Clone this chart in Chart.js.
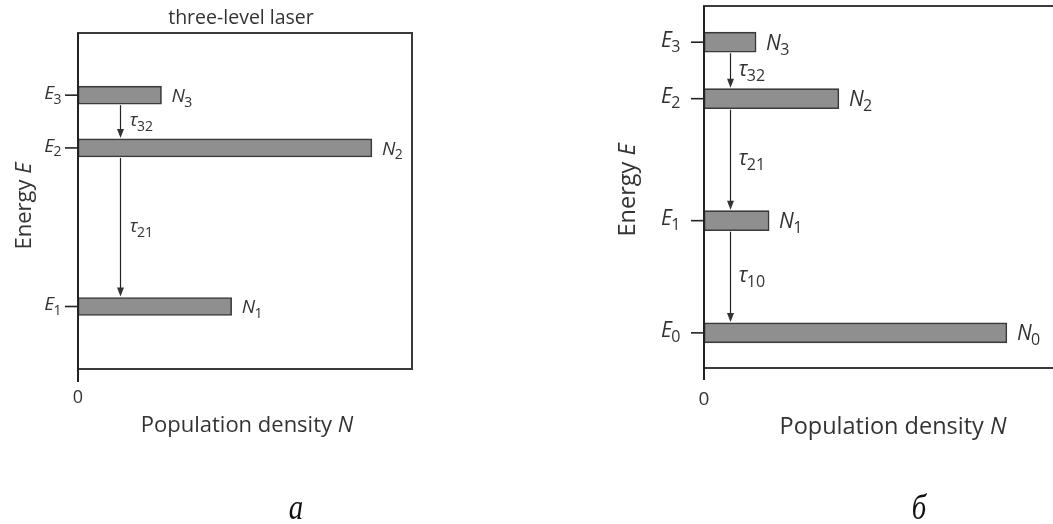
<!DOCTYPE html>
<html>
<head>
<meta charset="utf-8">
<script src="https://cdn.jsdelivr.net/npm/chart.js@4/dist/chart.umd.min.js"></script>
<style>
  html, body { margin: 0; padding: 0; background: #fff; }
  body { width: 1053px; height: 524px; overflow: hidden; position: relative; }
  canvas { position: absolute; top: 0; }
  #panelA { left: 0; }
  #panelB { left: 600px; }
</style>
</head>
<body>
<canvas id="panelA" width="440" height="524" style="width:440px;height:524px"></canvas>
<canvas id="panelB" width="480" height="524" style="width:480px;height:524px"></canvas>
<script>
// ---- Panel а: three-level laser ----
const levelSubsA = ['3', '2', '1'];
const energyA = [8.15, 6.58, 1.86];          // level energy (arbitrary units, 0..10)
const populationA = [25, 88, 46];            // population density (arbitrary units, 0..100)
const tauSubsA = ['32', '21'];               // decay between consecutive levels
const arrowPopA = 12.6;                      // where the decay arrows run along N

// ---- Panel б: four-level scheme ----
const levelSubsB = ['3', '2', '1', '0'];
const energyB = [9.0, 7.44, 4.07, 0.97];
const populationB = [15.6, 40.4, 19.5, 90.7];
const tauSubsB = ['32', '21', '10'];
const arrowPopB = 7.8;

const titleA = 'three-level laser';
const xTitle = 'Population density ';
const yTitle = 'Energy ';
const captionA = 'а';
const captionB = 'б';

const INK = '#333';
const SANS = '"Open Sans", "Noto Sans", sans-serif';

// Italic symbol followed by an upright subscript; y is the centre of the symbol.
function symbolSub(ctx, sym, sub, x, y, size, align) {
  const mf = `italic ${size}px ${SANS}`;
  const sf = `${Math.round(size * 0.74)}px ${SANS}`;
  ctx.font = mf; const mw = ctx.measureText(sym).width;
  ctx.font = sf; const sw = ctx.measureText(sub).width;
  const x0 = align === 'right' ? x - mw - sw : x;
  const base = y + size * 0.36;
  ctx.textAlign = 'left';
  ctx.textBaseline = 'alphabetic';
  ctx.font = mf; ctx.fillText(sym, x0, base);
  ctx.font = sf; ctx.fillText(sub, x0 + mw - size * 0.03, base + size * 0.24);
}

// Plain text followed by an italic symbol, centred at x.
function textThenItalic(ctx, plain, sym, x, y, size) {
  const pf = `${size}px ${SANS}`, mf = `italic ${size}px ${SANS}`;
  ctx.font = pf; const pw = ctx.measureText(plain).width;
  ctx.font = mf; const mw = ctx.measureText(sym).width;
  const x0 = x - (pw + mw) / 2;
  ctx.textAlign = 'left';
  ctx.textBaseline = 'middle';
  ctx.font = pf; ctx.fillText(plain, x0, y);
  ctx.font = mf; ctx.fillText(sym, x0 + pw, y);
}

// Frame, level ticks, labels and decay arrows drawn on top of the bars.
const levelDiagram = {
  id: 'levelDiagram',
  afterDatasetsDraw(chart, args, o) {
    const { ctx, chartArea: a, scales: { x, y } } = chart;
    const energy = o.energy, pops = o.population, half = o.thickness / 2;
    ctx.save();

    // box
    ctx.strokeStyle = '#3a3a3a';
    ctx.lineWidth = 2;
    ctx.strokeRect(a.left, a.top, a.right - a.left, a.bottom - a.top);
    // energy axis, running past the box to mark N = 0
    ctx.strokeStyle = '#222';
    ctx.beginPath();
    ctx.moveTo(a.left, a.top);
    ctx.lineTo(a.left, a.bottom + o.zeroTick);
    ctx.stroke();

    ctx.fillStyle = INK;
    ctx.lineWidth = 1.6;
    energy.forEach((e, i) => {
      const py = y.getPixelForValue(e);
      // tick on the energy axis
      ctx.beginPath();
      ctx.moveTo(a.left - o.tickLen, py);
      ctx.lineTo(a.left, py);
      ctx.stroke();
      // E_i at the left, N_i at the bar end
      symbolSub(ctx, 'E', o.subs[i], a.left - o.tickLen - o.eGap, py - 3, o.size, 'right');
      symbolSub(ctx, 'N', o.subs[i], x.getPixelForValue(pops[i]) + o.nGap, py, o.size, 'left');
    });

    // decay arrows between neighbouring levels
    const ax = Math.round(x.getPixelForValue(o.arrowPop)) + 0.5;
    ctx.strokeStyle = '#222';
    ctx.lineWidth = 1.2;
    for (let i = 0; i < energy.length - 1; i++) {
      const y0 = y.getPixelForValue(energy[i]) + half + 1;
      const y1 = y.getPixelForValue(energy[i + 1]) - half - 1;
      ctx.beginPath();
      ctx.moveTo(ax, y0);
      ctx.lineTo(ax, y1 - 6);
      ctx.stroke();
      ctx.beginPath();
      ctx.moveTo(ax - 3.5, y1 - 9);
      ctx.lineTo(ax + 3.5, y1 - 9);
      ctx.lineTo(ax, y1);
      ctx.closePath();
      ctx.fill();
      symbolSub(ctx, 'τ', o.taus[i], ax + o.tauGap, (y0 + y1) / 2 - 2, o.size, 'left');
    }

    // zero of the population axis
    ctx.font = `${o.zeroSize}px ${SANS}`;
    ctx.textAlign = 'center';
    ctx.textBaseline = 'middle';
    ctx.fillText('0', a.left, a.bottom + o.zeroY);

    // axis titles
    textThenItalic(ctx, xTitle, 'N', o.xTitleX, a.bottom + o.xTitleY, o.titleSize);
    ctx.save();
    ctx.translate(o.yTitleX, o.yTitleY);
    ctx.rotate(-Math.PI / 2);
    textThenItalic(ctx, yTitle, 'E', 0, 0, o.titleSize);
    ctx.restore();

    // panel heading and caption
    if (o.heading) {
      ctx.font = `${o.headingSize}px ${SANS}`;
      ctx.textAlign = 'center';
      ctx.textBaseline = 'middle';
      ctx.fillText(o.heading, o.headingX, o.headingY);
    }
    ctx.fillStyle = '#111';
    ctx.font = `italic 36px "Liberation Serif", "DejaVu Serif", serif`;
    ctx.textAlign = 'center';
    ctx.textBaseline = 'alphabetic';
    ctx.translate(o.captionX, 519);
    ctx.scale(0.8, 1);
    ctx.fillText(o.caption, 0, 0);
    ctx.restore();
  }
};

function makePanel(id, energy, population, opts) {
  const data = energy.map((e, i) => ({ x: population[i], y: e }));
  return new Chart(document.getElementById(id), {
    type: 'bar',
    data: {
      datasets: [{
        data,
        backgroundColor: '#8f8f8f',
        borderColor: '#3a3a3a',
        borderWidth: 1.6,
        borderSkipped: false,
        barThickness: opts.thickness
      }]
    },
    options: {
      indexAxis: 'y',
      responsive: false,
      animation: false,
      events: [],
      layout: { padding: opts.padding },
      scales: {
        x: { type: 'linear', min: 0, max: opts.xMax, display: false, offset: false },
        y: { type: 'linear', min: 0, max: 10, display: false, offset: false }
      },
      plugins: {
        legend: { display: false },
        tooltip: { enabled: false },
        levelDiagram: Object.assign({ energy, population }, opts)
      }
    },
    plugins: [levelDiagram]
  });
}

makePanel('panelA', energyA, populationA, {
  padding: { left: 78, top: 33, right: 28, bottom: 155 },
  xMax: 100, thickness: 18,
  subs: levelSubsA, taus: tauSubsA, arrowPop: arrowPopA,
  size: 19, titleSize: 22, zeroSize: 18, tickLen: 13, eGap: 3, nGap: 10, tauGap: 9,
  zeroTick: 13, zeroY: 29, xTitleX: 247, xTitleY: 57,
  yTitleX: 25, yTitleY: 206,
  heading: titleA, headingSize: 19.5, headingX: 241, headingY: 18,
  caption: captionA, captionX: 296
});

makePanel('panelB', energyB, populationB, {
  padding: { left: 104, top: 6, right: 17, bottom: 156 },
  xMax: 107.5, thickness: 20,
  subs: levelSubsB, taus: tauSubsB, arrowPop: arrowPopB,
  size: 21, titleSize: 23.5, zeroSize: 19, tickLen: 13, eGap: 10, nGap: 10, tauGap: 8,
  zeroTick: 12, zeroY: 32, xTitleX: 293, xTitleY: 59,
  yTitleX: 28, yTitleY: 190,
  heading: null,
  caption: captionB, captionX: 319
});
</script>
</body>
</html>
